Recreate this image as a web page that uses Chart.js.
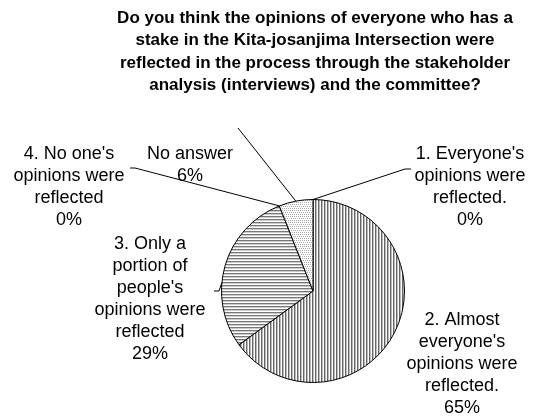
<!DOCTYPE html>
<html>
<head>
<meta charset="utf-8">
<script src="https://cdn.jsdelivr.net/npm/chart.js@4.4.1/dist/chart.umd.min.js"></script>
<style>
  html, body { margin: 0; padding: 0; background: #fff; }
  #wrap { width: 545px; height: 417px; position: relative; }
</style>
</head>
<body>
<div id="wrap"><canvas id="chart" width="545" height="417"></canvas></div>
<script>
// ── Data ──────────────────────────────────────────────────
const titleLines = [
  'Do you think the opinions of everyone who has a',
  'stake in the Kita-josanjima Intersection were',
  'reflected in the process through the stakeholder',
  'analysis (interviews) and the committee?'
];
const categories = [
  "1. Everyone's opinions were reflected.",
  "2. Almost everyone's opinions were reflected.",
  "3. Only a portion of people's opinions were reflected",
  "4. No one's opinions were reflected",
  'No answer'
];
const labelLines = [
  ["1. Everyone's", 'opinions were', 'reflected.'],
  ['2. Almost', "everyone's", 'opinions were', 'reflected.'],
  ['3. Only a', 'portion of', "people's", 'opinions were', 'reflected'],
  ["4. No one's", 'opinions were', 'reflected'],
  ['No answer']
];
const percents = [0, 65, 29, 0, 6];

// ── Fill patterns ─────────────────────────────────────────
function makePattern(draw) {
  const c = document.createElement('canvas');
  c.width = 6; c.height = 6;
  const g = c.getContext('2d');
  g.fillStyle = '#fff';
  g.fillRect(0, 0, 6, 6);
  draw(g);
  return document.getElementById('chart').getContext('2d').createPattern(c, 'repeat');
}
const vLines = makePattern(g => {
  g.fillStyle = '#666';
  g.fillRect(0, 0, 1, 6); g.fillRect(3, 0, 1, 6);
  g.fillStyle = '#bbb';
  g.fillRect(1, 0, 1, 6); g.fillRect(4, 0, 1, 6);
});
const hLines = makePattern(g => {
  g.fillStyle = '#777';
  g.fillRect(0, 0, 6, 1); g.fillRect(0, 3, 6, 1);
  g.fillStyle = '#ccc';
  g.fillRect(0, 1, 6, 1); g.fillRect(0, 4, 6, 1);
});
const dots = makePattern(g => {
  g.fillStyle = '#aaa';
  for (let y = 0; y < 6; y += 2)
    for (let x = (y / 2) % 2; x < 6; x += 2) g.fillRect(x, y, 1, 1);
});
const fills = ['#fff', vLines, hLines, '#fff', dots];

// ── Label layout (centre x, first baseline y, leader path) ─
const LINE_H = 22;
const labelPos = [
  { x: 470, y: 159, leader: [[411, 169], [405, 169]], shift: 0 },
  { x: 462, y: 325, leader: null, shift: 0 },
  { x: 150, y: 249, leader: [[214, 291], [219, 291]], shift: -0.19 },
  { x: 69,  y: 159, leader: [[130, 168], [135, 168]], shift: 0 },
  { x: 190, y: 159, leader: [[238, 128]], shift: 0 }
];

const outsideLabels = {
  id: 'outsideLabels',
  afterDraw(chart) {
    const ctx = chart.ctx;
    const arcs = chart.getDatasetMeta(0).data;
    ctx.save();

    // title
    ctx.fillStyle = '#000';
    ctx.textAlign = 'center';
    ctx.textBaseline = 'alphabetic';
    ctx.font = 'bold 17px "Liberation Sans", Arial, sans-serif';
    titleLines.forEach((t, i) => ctx.fillText(t, 315, 23 + i * 22.3));

    // leader lines
    ctx.strokeStyle = '#000';
    ctx.lineWidth = 1;
    arcs.forEach((arc, i) => {
      const p = labelPos[i];
      if (!p.leader) return;
      const { x, y, startAngle, endAngle, outerRadius } = arc.getProps(['x', 'y', 'startAngle', 'endAngle', 'outerRadius'], true);
      const a = (startAngle + endAngle) / 2 + p.shift;
      const ex = x + Math.cos(a) * outerRadius;
      const ey = y + Math.sin(a) * outerRadius;
      ctx.beginPath();
      ctx.moveTo(p.leader[0][0], p.leader[0][1]);
      p.leader.slice(1).forEach(pt => ctx.lineTo(pt[0], pt[1]));
      ctx.lineTo(ex, ey);
      ctx.stroke();
    });

    // category labels
    ctx.font = '18px "Liberation Sans", Arial, sans-serif';
    labelLines.forEach((lines, i) => {
      const p = labelPos[i];
      const all = lines.concat([percents[i] + '%']);
      all.forEach((t, j) => ctx.fillText(t, p.x, p.y + j * LINE_H));
    });
    ctx.restore();
  }
};

new Chart(document.getElementById('chart'), {
  type: 'pie',
  data: {
    labels: categories,
    datasets: [{
      data: percents,
      backgroundColor: fills,
      borderColor: '#000',
      borderWidth: 1
    }]
  },
  options: {
    responsive: false,
    animation: false,
    layout: { padding: { top: 199, bottom: 34, left: 221, right: 140 } },
    plugins: {
      legend: { display: false },
      tooltip: { enabled: false },
      title: { display: false }
    }
  },
  plugins: [outsideLabels]
});
</script>
</body>
</html>
